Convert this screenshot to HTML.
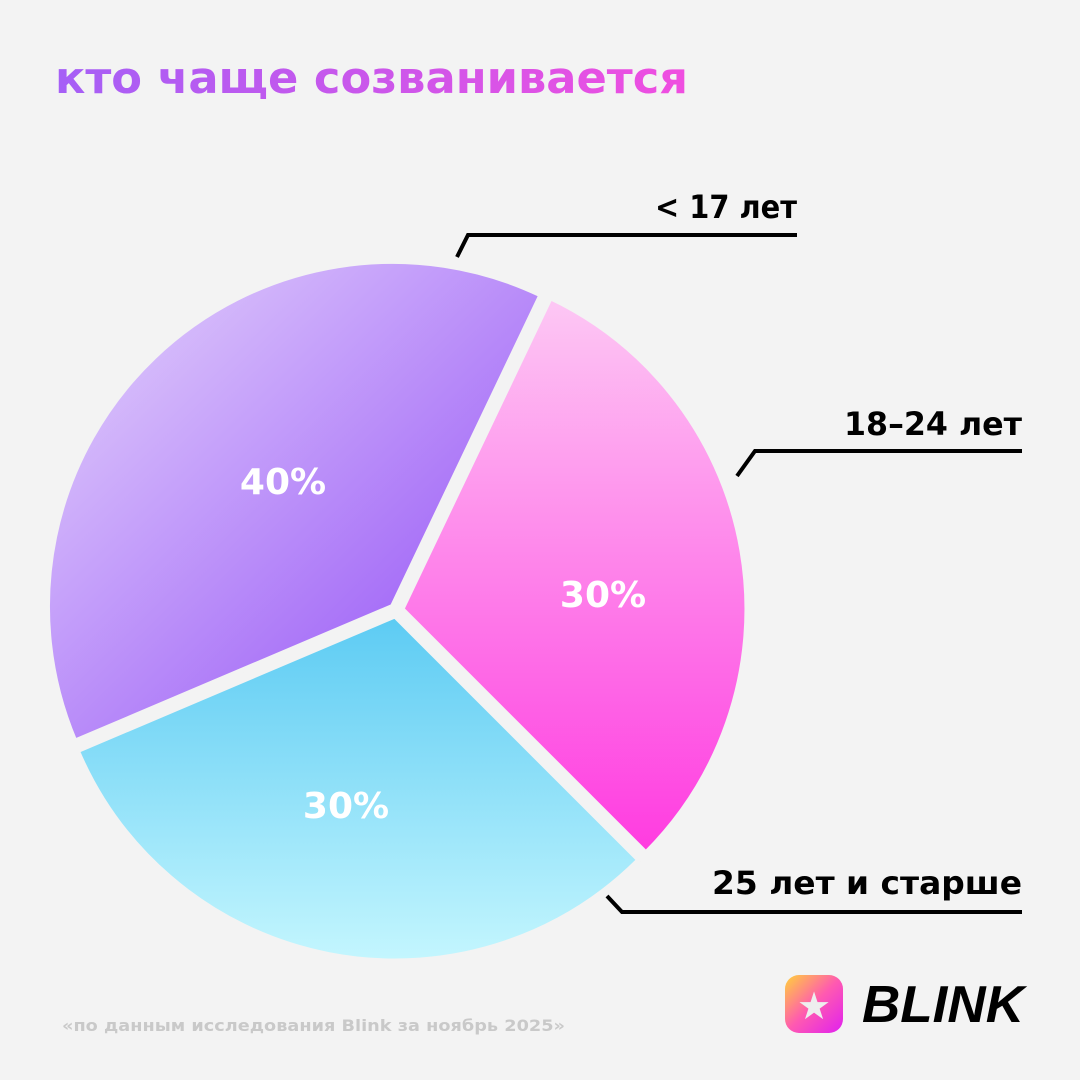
<!DOCTYPE html>
<html><head><meta charset="utf-8"><style>
html,body{margin:0;padding:0;width:1080px;height:1080px;background:#f3f3f3;overflow:hidden}
</style></head><body>
<svg width="1080" height="1080" viewBox="0 0 1080 1080" xmlns="http://www.w3.org/2000/svg" style="font-family:'DejaVu Sans','Liberation Sans',sans-serif">
<defs>
<linearGradient id="tg" x1="0" x2="1" y1="0" y2="0"><stop offset="0" stop-color="#a55ff6"/><stop offset="1" stop-color="#f04ee0"/></linearGradient>
<linearGradient id="gp" x1="0" y1="0" x2="1" y2="1"><stop offset="0" stop-color="#e6d6fc"/><stop offset="0.85" stop-color="#9b5cf7"/></linearGradient>
<linearGradient id="gk" x1="0" y1="0" x2="0" y2="1"><stop offset="0" stop-color="#fdc8f4"/><stop offset="1" stop-color="#ff3be0"/></linearGradient>
<linearGradient id="gb" x1="0" y1="0" x2="0" y2="1"><stop offset="0" stop-color="#5ccbf3"/><stop offset="1" stop-color="#c4f6fe"/></linearGradient>
<linearGradient id="lg" x1="0" y1="0" x2="1" y2="1"><stop offset="0" stop-color="#ffd23a"/><stop offset="0.5" stop-color="#ff5ab0"/><stop offset="1" stop-color="#e020f0"/></linearGradient>
</defs>
<rect width="1080" height="1080" fill="#f3f3f3"/>
<text x="55" y="93" font-size="44" font-weight="bold" fill="url(#tg)" textLength="633" lengthAdjust="spacingAndGlyphs">кто чаще созванивается</text>
<g stroke="#f3f3f3" stroke-width="5" stroke-linejoin="round">
<path d="M392.5,606.4 L74.9,741.2 A345,345 0 0 1 541,295 Z" fill="url(#gp)"/>
<path d="M401.9,609 L550.4,297.6 A345,345 0 0 1 645.9,853 Z" fill="url(#gk)"/>
<path d="M394.9,615.9 L638.9,859.9 A345,345 0 0 1 77.3,750.7 Z" fill="url(#gb)"/>
</g>
<g fill="#fff" font-size="36" font-weight="bold" text-anchor="middle">
<text x="283" y="494">40%</text>
<text x="603" y="607">30%</text>
<text x="346" y="818">30%</text>
</g>
<g fill="none" stroke="#000" stroke-width="4">
<polyline points="457,257 468,235 797,235"/>
<polyline points="737,476 755,451 1022,451"/>
<polyline points="607,896 622,912 1022,912"/>
</g>
<g font-size="32" font-weight="bold" fill="#000" text-anchor="end">
<text x="797" y="218" textLength="142" lengthAdjust="spacingAndGlyphs">&lt; 17 лет</text>
<text x="1022" y="435" textLength="178" lengthAdjust="spacingAndGlyphs">18–24 лет</text>
<text x="1022" y="894" textLength="310" lengthAdjust="spacingAndGlyphs">25 лет и старше</text>
</g>
<text x="62" y="1031" font-size="16" font-weight="bold" fill="#c9c9c9" textLength="503" lengthAdjust="spacingAndGlyphs">«по данным исследования Blink за ноябрь 2025»</text>
<rect x="785" y="975" width="58" height="58" rx="14" fill="url(#lg)"/>
<text x="814" y="1019" font-size="38" fill="#eee" text-anchor="middle">★</text>
<text x="862" y="1022" font-size="52" font-weight="bold" font-style="italic" fill="#000" font-family="Liberation Sans" textLength="162" lengthAdjust="spacingAndGlyphs">BLINK</text>
</svg>
</body></html>
